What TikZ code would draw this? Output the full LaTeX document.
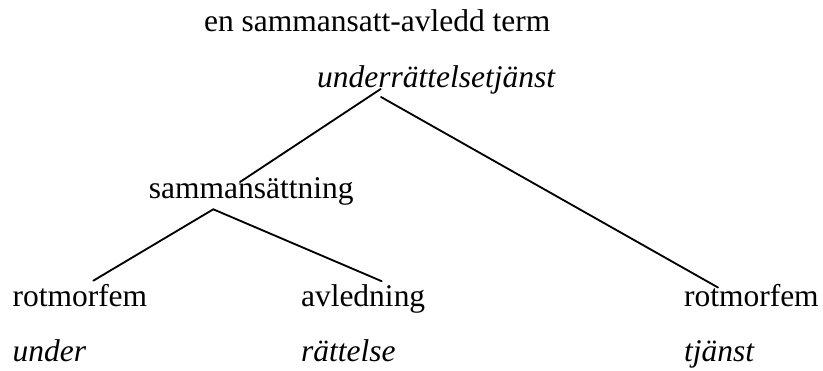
\documentclass[tikz,border=0pt]{standalone}
\usepackage{fontspec}
\setmainfont{Liberation Serif}
\usetikzlibrary{positioning}

\begin{document}
\begin{tikzpicture}[
    x=0.381pt, y=-0.381pt,
    lbl/.style={inner sep=0pt, anchor=base west, font=\fontsize{12}{14}\selectfont},
    ilbl/.style={lbl, font=\fontsize{12}{14}\selectfont\itshape},
    branch/.style={line width=0.7pt, line cap=round}
]
\useasboundingbox (0,0) rectangle (823,371);
% labels
\node[lbl]  (title) at (203.5,32)  {en sammansatt-avledd term};
\node[ilbl] (top)   at (316.7,87.5) {underrättelsetjänst};
\node[lbl]  (comp)  at (148.3,199) {sammansättning};
\node[lbl]  (rotL)  at (12,307)    {rotmorfem};
\node[lbl]  (avl)   at (300.5,307) {avledning};
\node[lbl]  (rotR)  at (683.5,307) {rotmorfem};
\node[ilbl] (wL)    at (12,362)    {under};
\node[ilbl] (wM)    at (300.5,362) {rättelse};
\node[ilbl] (wR)    at (683.5,362) {tjänst};
% branches
\draw[branch] ([shift={(64,1.5)}]top.base west) -- ([shift={(91.7,-17)}]comp.base west);
\draw[branch] ([shift={(64.3,9.5)}]top.base west) -- ([shift={(34.5,-19.5)}]rotR.base west);
\draw[branch] ([shift={(65,10.3)}]comp.base west) -- ([shift={(81.3,-26.3)}]rotL.base west);
\draw[branch] ([shift={(65,10.3)}]comp.base west) -- ([shift={(81.2,-25.8)}]avl.base west);
\end{tikzpicture}
\end{document}
